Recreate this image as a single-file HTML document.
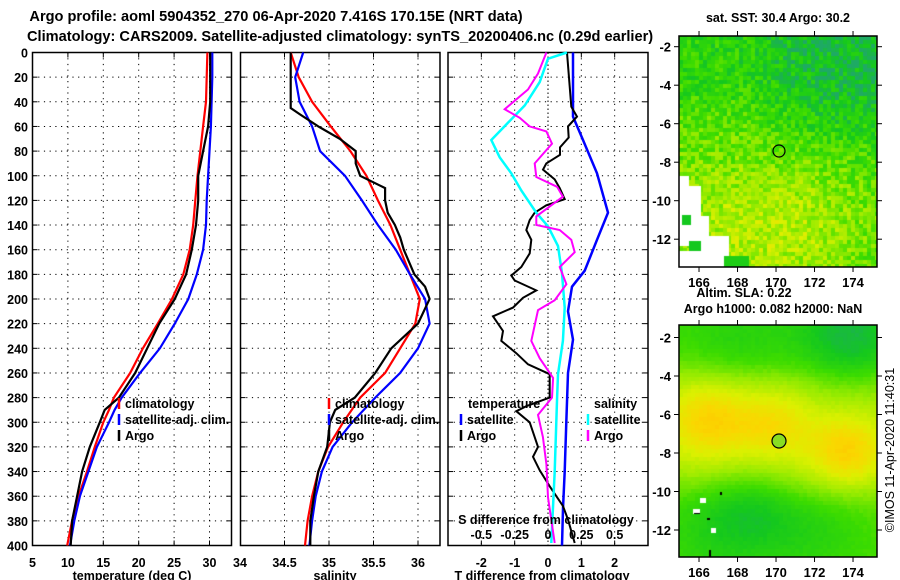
<!DOCTYPE html>
<html><head><meta charset="utf-8"><style>
body{margin:0;background:#fff;width:900px;height:580px;overflow:hidden;position:relative;font-family:"Liberation Sans",sans-serif;}
svg{position:absolute;left:0;top:0}
canvas{position:absolute}
text{font-family:"Liberation Sans",sans-serif;font-weight:bold;font-size:12.5px;fill:#000}
</style></head><body>
<canvas id="map1" width="198" height="231" style="left:679px;top:36px"></canvas>
<canvas id="map2" width="198" height="232" style="left:679px;top:325px"></canvas>
<svg id="chart" width="900" height="580"></svg>
<script>
// depth levels (m)
const depthT=[0,20,40,60,80,100,120,140,160,180,200,220,240,260,280,290,300,320,340,360,380,400];
const climT=[29.7,29.6,29.5,29.1,28.7,28.3,28.0,27.7,27.2,26.3,24.7,22.7,20.6,18.8,16.5,15.8,15.0,13.8,12.7,11.5,10.6,9.9];
const satT=[30.4,30.4,30.3,30.2,30.0,29.8,29.6,29.5,29.1,28.2,27.0,25.1,23.0,20.2,17.6,16.6,15.8,14.1,12.9,11.7,10.9,10.3];
const argoT=[30.1,30.1,30.1,29.8,29.1,28.4,28.4,28.1,27.5,26.7,25.1,22.9,21.2,19.5,17.2,15.2,14.5,13.1,12.0,11.3,10.6,10.4];
const depthS=[0,20,40,60,80,100,120,140,160,180,200,220,240,260,280,300,320,340,360,380,400];
const climS=[34.57,34.66,34.81,35.02,35.24,35.42,35.55,35.69,35.80,35.91,36.02,35.97,35.80,35.63,35.35,35.16,34.99,34.88,34.81,34.76,34.73];
const satS=[34.71,34.62,34.67,34.81,34.90,35.18,35.37,35.55,35.75,35.91,36.08,36.13,36.00,35.80,35.52,35.26,35.04,34.92,34.85,34.81,34.78];
const depthSA=[0,10,20,30,45,50,60,70,80,90,100,110,120,130,140,145,150,160,180,190,200,220,240,260,280,290,300,320,340,360,380,400];
const argoS=[34.57,34.57,34.57,34.57,34.57,34.67,34.88,35.12,35.30,35.30,35.35,35.63,35.63,35.66,35.74,35.77,35.80,35.84,35.96,36.08,36.13,36.00,35.70,35.52,35.29,35.07,35.01,34.98,34.88,34.83,34.79,34.79];
// difference panel
const depthBlue=[0,52,71,98,130,152,177,190,210,233,260,300,340,370,400];
const diffSatT=[0.75,0.75,1.05,1.47,1.8,1.47,1.1,0.72,0.6,0.75,0.6,0.55,0.5,0.45,0.42];
const depthArgoDT=[0,44,52,60,69,77,83,90,95,103,110,119,124,130,136,144,152,163,174,181,185,193,199,207,214,226,234,244,253,261,280,287,291,300,320,328,339,352,368,379,398];
const diffArgoT=[0.57,0.7,0.87,0.6,0.62,0.36,0.36,-0.05,-0.15,0.2,0.35,0.5,-0.05,-0.4,-0.55,-0.65,-0.5,-0.55,-0.8,-1.1,-1.0,-0.35,-0.75,-1.05,-1.65,-1.35,-1.4,-0.95,-0.6,0.05,0.05,-0.65,-0.95,-0.55,-0.3,-0.45,-0.25,0.05,0.45,0.6,0.8];
const depthCyan=[0,5,24,43,71,85,98,112,130,141,157,179,207,234,261,280,340,398];
const diffSatS=[0.142,0,-0.062,-0.175,-0.425,-0.362,-0.275,-0.2,-0.088,0,0.075,0.105,0.125,0.112,0.075,0.068,0.05,0.025];
const depthMag=[0,17,30,46,53,60,64,74,90,101,109,117,125,133,140,144,152,162,174,188,201,209,234,248,264,280,294,312,334,361,398];
const diffArgoS=[-0.012,-0.075,-0.15,-0.325,-0.212,-0.138,-0.012,0.03,-0.1,-0.088,0.068,0.112,0.012,-0.088,-0.088,0.088,0.175,0.2,0.088,0.138,0.05,-0.075,-0.125,-0.062,0.038,0.03,-0.075,-0.038,-0.012,0,0.05];
const tTicks=[5,10,15,20,25,30];
const sTicks=[34,34.5,35,35.5,36];
const dTicks=[-2,-1,0,1,2];
const sdTicks=[-0.5,-0.25,0,0.25,0.5];
const sdLabels=["-0.5","-0.25","0","0.25","0.5"];
const depthTicks=[0,20,40,60,80,100,120,140,160,180,200,220,240,260,280,300,320,340,360,380,400];
const lonTicks=[166,168,170,172,174];
const latTicks=[-2,-4,-6,-8,-10,-12];

const NS='http://www.w3.org/2000/svg';
const svg=document.getElementById('chart');
function mk(tag,attrs,parent){const e=document.createElementNS(NS,tag);for(const k in attrs)e.setAttribute(k,attrs[k]);(parent||svg).appendChild(e);return e;}
function txt(x,y,s,anchor,parent,size){const t=mk('text',{x:x,y:y,'text-anchor':anchor||'start'},parent);if(size)t.style.fontSize=size+'px';t.textContent=s;return t;}
const Y=d=>52.5+d*1.2325;
const xT=t=>32.5+(t-5)*7.08;
const xS=s=>240+(s-34)*89;
const xD=d=>548+d*33.33;
const xSD=s=>548+s*133.33;
const TOP=52.5,BOT=545.5;

function panel(name,x0,x1,gridXs){
  const g=mk('g',{});
  
  
  gridXs.forEach(x=>mk('line',{x1:x,x2:x,y1:TOP,y2:BOT,stroke:'#000','stroke-dasharray':'1.2,4.5','stroke-width':1},g));
  depthTicks.forEach(d=>{if(d>0&&d<400)mk('line',{x1:x0,x2:x1,y1:Y(d),y2:Y(d),stroke:'#000','stroke-dasharray':'1.2,4.5','stroke-width':1},g);
    mk('line',{x1:x0,x2:x0+5,y1:Y(d),y2:Y(d),stroke:'#000'},g);mk('line',{x1:x1-5,x2:x1,y1:Y(d),y2:Y(d),stroke:'#000'},g);});
  gridXs.forEach(x=>{mk('line',{x1:x,x2:x,y1:TOP,y2:TOP+5,stroke:'#000'},g);mk('line',{x1:x,x2:x,y1:BOT-5,y2:BOT,stroke:'#000'},g);});
  mk('rect',{x:x0,y:TOP,width:x1-x0,height:BOT-TOP,fill:'none',stroke:'#000','stroke-width':1.5},g);
  return g;
}
function line(name,ds,vs,fx,color,w){
  const p=mk('polyline',{points:ds.map((d,i)=>fx(vs[i]).toFixed(1)+','+Y(d).toFixed(1)).join(' '),fill:'none',stroke:color,'stroke-width':w||2.2});
  
  
}
// titles
let t1=txt(276,21,'Argo profile: aoml 5904352_270 06-Apr-2020 7.416S 170.15E (NRT data)','middle',null,14.6);

let t2=txt(27,41,'Climatology: CARS2009. Satellite-adjusted climatology: synTS_20200406.nc (0.29d earlier)','start',null,14.6);


// panel 1
panel('temperature-panel',32.5,231.5,tTicks.slice(1).map(xT));
depthTicks.forEach(d=>txt(28,Y(d)+5,String(d),'end'));
tTicks.forEach(t=>txt(xT(t),567,String(t),'middle'));
txt(240,567,'34','middle');
txt(132,580,'temperature (deg C)','middle');
line('temp-climatology-line',depthT,climT,xT,'#f00');
line('temp-satellite-line',depthT,satT,xT,'#00f');
line('temp-argo-line',depthT,argoT,xT,'#000');
function legend(x,y,items){items.forEach((it,i)=>{mk('line',{x1:x,x2:x,y1:y+i*16-10,y2:y+i*16+1,stroke:it[1],'stroke-width':2.5});const t=txt(x+6,y+i*16,it[0]);});}
legend(119,408,[['climatology','#f00'],['satellite-adj. clim.','#00f'],['Argo','#000']]);

// panel 2
panel('salinity-panel',240.5,440,[34.5,35,35.5,36].map(xS));
sTicks.slice(1).forEach(s=>txt(xS(s),567,String(s),'middle'));
txt(335,580,'salinity','middle');
line('sal-climatology-line',depthS,climS,xS,'#f00');
line('sal-satellite-line',depthS,satS,xS,'#00f');
line('sal-argo-line',depthSA,argoS,xS,'#000');
legend(329,408,[['climatology','#f00'],['satellite-adj. clim.','#00f'],['Argo','#000']]);

// panel 3
panel('difference-panel',448,648,dTicks.filter(d=>d!==0).map(xD));
mk('line',{x1:548,x2:548,y1:TOP,y2:BOT,stroke:'#000','stroke-dasharray':'1.5,2.5'});
dTicks.forEach(d=>txt(xD(d),567,String(d),'middle'));
txt(542,580,'T difference from climatology','middle');
line('sat-T-diff-line',depthBlue,diffSatT,xD,'#00f',2.5);
line('argo-T-diff-line',depthArgoDT,diffArgoT,xD,'#000',2);
line('sat-S-diff-line',depthCyan,diffSatS,xSD,'#0ff',2.5);
line('argo-S-diff-line',depthMag,diffArgoS,xSD,'#f0f',2);
txt(468,408,'temperature');txt(594,408,'salinity');
mk('line',{x1:461,x2:461,y1:414,y2:425,stroke:'#00f','stroke-width':2.5});txt(467,424,'satellite');
mk('line',{x1:461,x2:461,y1:430,y2:441,stroke:'#000','stroke-width':2.5});txt(467,440,'Argo');
mk('line',{x1:588,x2:588,y1:414,y2:425,stroke:'#0ff','stroke-width':2.5});txt(594,424,'satellite');
mk('line',{x1:588,x2:588,y1:430,y2:441,stroke:'#f0f','stroke-width':2.5});txt(594,440,'Argo');
txt(546,524,'S difference from climatology','middle');
sdTicks.forEach((s,i)=>txt(xSD(s),539,sdLabels[i],'middle'));

// maps frames
function mapAxes(name,x0,y0,w,h,latY){
  const g=mk('g',{});
  mk('rect',{x:x0,y:y0,width:w,height:h,fill:'none',stroke:'#000','stroke-width':1.5},g);
  lonTicks.forEach(l=>{const x=x0+(l-164.96)*19.25;mk('line',{x1:x,x2:x,y1:y0,y2:y0-5,stroke:'#000'},g);mk('line',{x1:x,x2:x,y1:y0+h,y2:y0+h+5,stroke:'#000'},g);txt(x,y0+h+20,String(l),'middle',g,13);});
  latTicks.forEach(l=>{const y=latY(l);mk('line',{x1:x0,x2:x0-5,y1:y,y2:y,stroke:'#000'},g);mk('line',{x1:x0+w,x2:x0+w+5,y1:y,y2:y,stroke:'#000'},g);txt(x0-8,y+5,String(l),'end',g,13);});
  return g;
}
mapAxes('sst-map-axes',679,36,198,231,l=>46.7+(-2-l)*19.25);
mapAxes('sla-map-axes',679,325,198,232,l=>337.5+(-2-l)*19.25);
txt(778,22,'sat. SST: 30.4 Argo: 30.2','middle',null,12.5);
txt(744,297,'Altim. SLA: 0.22','middle',null,12.5);
txt(773,313,'Argo h1000: 0.082 h2000: NaN','middle',null,12.5);
mk('circle',{cx:779,cy:151,r:6,fill:'none',stroke:'#000','stroke-width':1.2});
mk('circle',{cx:779,cy:441,r:7,fill:'#88dd22',stroke:'#000','stroke-width':1.2});
const rt=txt(0,0,'©IMOS 11-Apr-2020 11:40:31','middle',null,12.5);
rt.setAttribute('transform','translate(894,450) rotate(-90)');
rt.style.fontWeight='normal';

// map rendering
function cmap(v){ // v 0..1
  const stops=[[0,[30,170,100]],[0.15,[20,200,30]],[0.35,[60,220,0]],[0.55,[150,235,0]],[0.75,[220,240,0]],[0.9,[250,215,0]],[1,[255,195,0]]];
  v=Math.max(0,Math.min(1,v));
  for(let i=1;i<stops.length;i++){if(v<=stops[i][0]){const a=stops[i-1],b=stops[i],f=(v-a[0])/(b[0]-a[0]);return a[1].map((c,k)=>Math.round(c+(b[1][k]-c)*f));}}
  return stops[stops.length-1][1];
}
function hash(i,j){let h=(i*374761393+j*668265263)^0x5bd1e995;h=(h^(h>>>13))*1274126177;return ((h^(h>>>16))>>>0)/4294967296;}
const sig=z=>1/(1+Math.exp(-z));
(function(){
  const c=document.getElementById('map1').getContext('2d');
  const cs=4;
  for(let j=0;j<58;j++)for(let i=0;i<50;i++){
    const x=i*cs,y=j*cs;
    let v=0.34+0.3*Math.exp(-((x-100)*(x-100)/9000+(y-190)*(y-190)/6000))+(hash(i,j)-0.5)*0.32;
    v-=0.18*sig((x-100)/15)*sig((100-y)/15);
    v-=0.08*sig((60-y)/10);
    v+=0.08*sig((y-80)/15)*sig((60-x)/15);
    const col=cmap(v);c.fillStyle='rgb('+col+')';c.fillRect(x,y,cs,cs);
  }
  c.fillStyle='#fff';
  c.fillRect(0,140,10,40);c.fillRect(0,150,22,30);c.fillRect(0,180,30,30);c.fillRect(18,200,32,30);c.fillRect(30,220,20,11);c.fillRect(0,215,45,16);c.fillRect(43,235,10,4);
  const g=cmap(0.15);c.fillStyle='rgb('+g+')';c.fillRect(3,179,9,10);c.fillRect(10,205,12,10);
  c.fillStyle='rgb('+cmap(0.2)+')';c.fillRect(45,220,25,11);
})();
(function(){
  const c=document.getElementById('map2').getContext('2d');
  const cs=4;
  const blobs=[[30,95,0.9,1800],[95,100,0.7,1500],[168,127,0.9,1500],[170,15,-0.8,2500],[60,25,-0.3,2500],[40,200,-0.5,2500],[105,205,-0.3,1800],[150,205,-0.25,1500],[75,180,-0.35,1500]];
  for(let j=0;j<58;j++)for(let i=0;i<50;i++){
    const x=i*cs+2,y=j*cs+2;
    let v=0.62;
    blobs.forEach(b=>{v+=b[2]*0.35*Math.exp(-((x-b[0])*(x-b[0])+(y-b[1])*(y-b[1]))/b[3]);});
    v-=0.28*sig((45-y)/12);
    v-=0.24*sig((y-165)/12);
    v+=(hash(i,j)-0.5)*0.04;
    const col=cmap(v);c.fillStyle='rgb('+col+')';c.fillRect(i*cs,j*cs,cs,cs);
  }
  c.fillStyle='#fff';c.fillRect(21,173,6,5);c.fillRect(32,203,5,5);c.fillRect(14,184,7,5);
  c.fillStyle='#000';c.fillRect(15,188,6,1);c.fillRect(28,193,3,2);c.fillRect(41,167,2,3);c.fillRect(30,225,2,7);
})();
</script>
</body></html>
